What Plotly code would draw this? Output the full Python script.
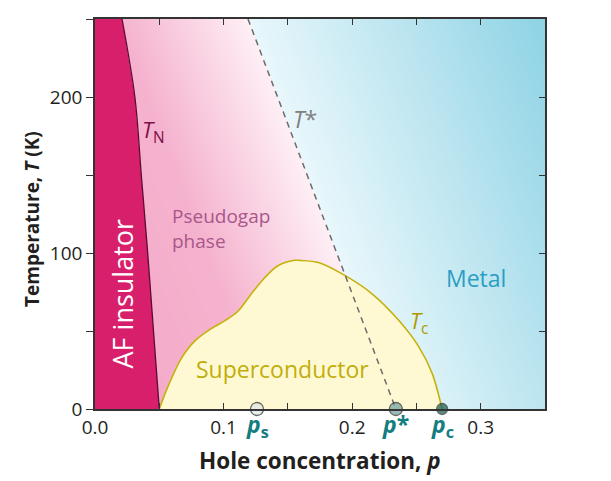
import numpy as np
import plotly.graph_objects as go

# ---- data ----
tn_p = [0.021, 0.031, 0.036, 0.041, 0.050]
tn_T = [250, 200, 150, 100, 0]

tstar_p = [0.119, 0.234]
tstar_T = [250, 0]

dome_p = [0.050, 0.0568, 0.0672, 0.0775, 0.0904, 0.1008, 0.111, 0.1214, 0.1318, 0.142,
          0.155, 0.159, 0.1744, 0.195, 0.2157, 0.2364, 0.252, 0.2623, 0.270]
dome_T = [0, 14.5, 32.5, 43.5, 51.5, 56.5, 62.5, 73.6, 84, 91.7,
          95.3, 95.3, 93.8, 85.3, 73.7, 56.7, 39.7, 22.7, 0]

marker_p = [0.126, 0.234, 0.270]
marker_names = ["p_s", "p*", "p_c"]

x_tickvals = [0.0, 0.1, 0.2, 0.3]
x_ticktext = ["0.0", "0.1", "0.2", "0.3"]
x_minor_step = 0.05
y_tickvals = [0, 100, 200]
y_ticktext = ["0", "100", "200"]
y_minor_step = 50
y_all_ticks = [0, 50, 100, 150, 200, 250]

FONT = "Open Sans"

fig = go.Figure()

# ---- background gradient (pink -> white | white -> blue), parallel to T* ----
gx = np.linspace(0, 0.36, 73)
gy = np.linspace(0, 260, 27)
slope = (tstar_p[0] - tstar_p[1]) / (tstar_T[0] - tstar_T[1])
GX, GY = np.meshgrid(gx, gy)
Z = GX - (tstar_p[1] + slope * GY)
colorscale = [
    [0.0, "#F3A8C7"],
    [0.28, "#F5B2CE"],
    [0.4995, "#FEEFF5"],
    [0.5005, "#E8F7FB"],
    [0.75, "#BCE5F0"],
    [1.0, "#8ED3E5"],
]
fig.add_trace(go.Heatmap(x=gx, y=gy, z=Z, zmin=-0.23, zmax=0.23, colorscale=colorscale,
                         zsmooth="best", showscale=False, hoverinfo="skip"))

# ---- AF insulator region ----
fig.add_trace(go.Scatter(x=[0] + tn_p + [0], y=[250] + tn_T + [0], fill="toself",
                         fillcolor="#D81F6B", line=dict(width=0), mode="lines",
                         hoverinfo="skip", showlegend=False))
fig.add_trace(go.Scatter(x=tn_p, y=tn_T, mode="lines", line=dict(color="#5E0A33", width=1.3, shape="spline"),
                         hoverinfo="skip", showlegend=False))

# ---- superconducting dome ----
fig.add_trace(go.Scatter(x=dome_p, y=dome_T, fill="toself", fillcolor="#FFF9D3",
                         line=dict(color="#C6B20C", width=1.6, shape="spline", smoothing=0.9),
                         mode="lines", hoverinfo="skip", showlegend=False))

# ---- T* dashed line ----
fig.add_trace(go.Scatter(x=tstar_p, y=tstar_T, mode="lines",
                         line=dict(color="#6B6B6B", width=1.5, dash="6px,5px"),
                         hoverinfo="skip", showlegend=False))

# ---- markers on the axis ----
fig.add_trace(go.Scatter(x=marker_p, y=[0, 0, 0], mode="markers", cliponaxis=False,
                         marker=dict(size=[13, 13, 11], color=["#DCE7E7", "#6F9E9E", "#0F5B51"],
                                     line=dict(color="#2B2B2B", width=1.3)),
                         hoverinfo="skip", showlegend=False))

teal = "#137D80"
ann = []
def A(x, y, text, color, size=20, **kw):
    d = dict(x=x, y=y, xref="x", yref="y", text=text, showarrow=False,
             xanchor="center", yanchor="middle",
             font=dict(family=FONT, size=size, color=color))
    d.update(kw)
    ann.append(d)

A(0.0217, 74, "AF insulator", "white", 27, textangle=-90)
A(0.0457, 178, "<i>T</i><sub>N</sub>", "#7D1048", 22)
A(0.1636, 185.6, "<i>T</i>*", "#808080", 23)
A(0.0585, 115.4, "Pseudogap<br>phase", "#A9578B", 19, xanchor="left", align="left")
A(0.296, 84.2, "Metal", "#2B9EC4", 23)
A(0.252, 55.5, "<i>T</i><sub>c</sub>", "#B09A00", 22)
A(0.1457, 25.5, "Superconductor", "#C2AE0A", 23)

# marker labels below the axis
for p, lab in zip(marker_p, marker_names):
    if lab == "p_s":
        t = "<b><i>p</i></b><sub><b>s</b></sub>"
    elif lab == "p_c":
        t = "<b><i>p</i></b><sub><b>c</b></sub>"
    else:
        t = "<b><i>p</i>*</b>"
    ann.append(dict(x=p, y=0, xref="x", yref="y", text=t, showarrow=False,
                    xanchor="center", yanchor="top",
                    yshift=3, font=dict(family=FONT, size=23, color=teal)))

# page offset (body margin) compensation
OFF = 8
L, R, T, B = 95 - OFF, 66, 17 - OFF, 72
W, H = 611 - OFF, 481 - OFF
pw, ph = W - L - R, H - T - B

def paper_ann(px, py, text, size, angle=0):
    return dict(x=(px - OFF - L) / pw, y=(H - B - (py - OFF)) / ph, xref="paper", yref="paper",
                xanchor="center", yanchor="middle",
                text=text, textangle=angle, showarrow=False,
                font=dict(family=FONT, size=size, color="#231F20"))

ann.append(paper_ann(32, 218, "<b>Temperature, <i>T</i> (K)</b>", 19, -90))
ann.append(paper_ann(320, 461, "<b>Hole concentration, <i>p</i></b>", 22.5))

fig.update_layout(
    width=W, height=H,
    margin=dict(l=L, r=R, t=T, b=B, pad=0),
    paper_bgcolor="white", plot_bgcolor="white",
    showlegend=False,
    annotations=ann,
    font=dict(family=FONT, size=19, color="#231F20"),
    xaxis=dict(range=[0, 0.35], tickvals=x_tickvals, ticktext=x_ticktext, ticks="inside",
               ticklen=6, tickwidth=1.3, tickcolor="#333", showline=True, linecolor="#333",
               linewidth=1.5, mirror="ticks", showgrid=False, zeroline=False,
               minor=dict(tick0=0, dtick=x_minor_step, ticks="inside", ticklen=6,
                          tickwidth=1.3, tickcolor="#333", showgrid=False),
               tickfont=dict(family=FONT, size=19, color="#231F20")),
    yaxis=dict(range=[0, 250], tickvals=y_tickvals, ticktext=y_ticktext, ticks="outside",
               ticklen=7, tickwidth=1.3, tickcolor="#333", showline=True, linecolor="#333",
               linewidth=1.5, mirror=True, showgrid=False, zeroline=False,
               minor=dict(tick0=0, dtick=y_minor_step, ticks="outside", ticklen=7,
                          tickwidth=1.3, tickcolor="#333", showgrid=False),
               tickfont=dict(family=FONT, size=19, color="#231F20")),
    yaxis2=dict(range=[0, 250], overlaying="y", side="right", tickvals=y_all_ticks,
                ticks="inside", ticklen=6, tickwidth=1.3, tickcolor="#333",
                showticklabels=False, showgrid=False, zeroline=False, showline=False),
)
fig.add_trace(go.Scatter(x=[None], y=[None], yaxis="y2", showlegend=False, hoverinfo="skip"))

fig.write_html("out.html")
